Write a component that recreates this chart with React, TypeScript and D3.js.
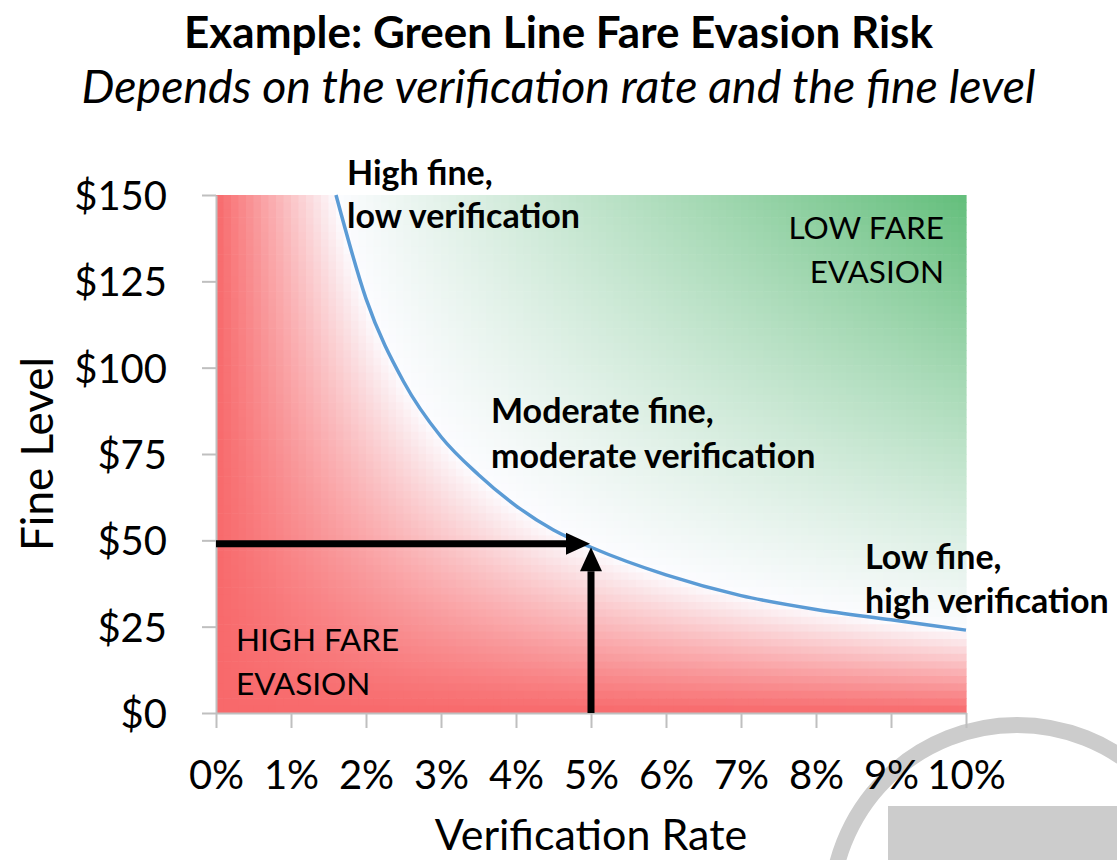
import React, { useEffect, useRef } from 'react';
import * as d3 from 'd3';

// axis ticks
const rateTicks = [0, 1, 2, 3, 4, 5, 6, 7, 8, 9, 10];
const fineTicks = [0, 25, 50, 75, 100, 125, 150];

// break-even curve (rate in %, fine in $)
const curveRate = [1.6, 2, 2.5, 3, 3.5, 4, 4.5, 5, 6, 7, 8, 9, 10];
const curveFine = [150, 120, 96, 80, 69, 60, 53, 48, 40, 34, 30, 27, 24];

// expected penalty per trip ($) on the curve and at the top right corner
const breakEvenPenalty = 2.4;
const maxPenalty = 15;

// the worked example
const exampleRate = 5;
const exampleFine = 49;

const titleText = 'Example: Green Line Fare Evasion Risk';
const subtitleText = 'Depends on the verification rate and the fine level';
const highFineLines = ['High fine,', 'low verification'];
const moderateLines = ['Moderate fine,', 'moderate verification'];
const lowFineLines = ['Low fine,', 'high verification'];
const lowEvasionLines = ['LOW FARE', 'EVASION'];
const highEvasionLines = ['HIGH FARE', 'EVASION'];

const W = 1117;
const H = 860;
const FONT = 'Lato, "Open Sans", sans-serif';

export default function App() {
  const ref = useRef<SVGSVGElement>(null);

  useEffect(() => {
    const svg = d3.select(ref.current);
    svg.selectAll('*').remove();

    const x = d3.scaleLinear().domain([0, 10]).range([216, 966]);
    const y = d3.scaleLinear().domain([0, 150]).range([713, 195]);

    const color = d3
      .scaleLinear<string>()
      .domain([0, breakEvenPenalty, maxPenalty])
      .range(['#F8696B', '#FCFCFF', '#63BE7B'])
      .clamp(true);

    // grey decoration in the bottom right corner
    svg.append('circle')
      .attr('cx', 1017).attr('cy', 911).attr('r', 186)
      .attr('fill', 'none').attr('stroke', '#cccccc').attr('stroke-width', 16);
    svg.append('rect')
      .attr('x', 888).attr('y', 806).attr('width', W - 888).attr('height', H - 806)
      .attr('fill', '#cccccc');

    // colour-scaled cell grid behind the plot
    const cols = 100;
    const rows = 70;
    const cw = (x(10) - x(0)) / cols;
    const ch = (y(0) - y(150)) / rows;
    const cells: { c: number; r: number }[] = [];
    for (let c = 0; c < cols; c++) for (let r = 0; r < rows; r++) cells.push({ c, r });
    svg.append('g')
      .selectAll('rect')
      .data(cells)
      .join('rect')
      .attr('x', d => x(0) + d.c * cw)
      .attr('y', d => y(150) + d.r * ch)
      .attr('width', cw + 0.6)
      .attr('height', ch + 0.6)
      .attr('fill', d => {
        const rate = x.invert(x(0) + (d.c + 0.5) * cw);
        const fine = y.invert(y(150) + (d.r + 0.5) * ch);
        return color((rate / 100) * fine);
      });

    // axes
    const yAxis = svg.append('g')
      .attr('transform', `translate(${x(0)},0)`)
      .call(
        d3.axisLeft(y)
          .tickValues(fineTicks)
          .tickSize(14)
          .tickSizeOuter(0)
          .tickPadding(35)
          .tickFormat(d => `$${d}`)
      );
    const xAxis = svg.append('g')
      .attr('transform', `translate(0,${y(0)})`)
      .call(
        d3.axisBottom(x)
          .tickValues(rateTicks)
          .tickSize(15)
          .tickSizeOuter(0)
          .tickPadding(33)
          .tickFormat(d => `${d}%`)
      );
    [yAxis, xAxis].forEach(a => {
      a.selectAll('path, line').attr('stroke', '#bfbfbf').attr('stroke-width', 2);
      a.selectAll('text')
        .attr('font-family', FONT)
        .attr('font-size', 40)
        .attr('fill', '#000');
    });
    yAxis.selectAll('text').attr('dy', '0.36em');

    // break-even curve
    const line = d3.line<number>()
      .x((_, i) => x(curveRate[i]))
      .y(d => y(d))
      .curve(d3.curveMonotoneX);
    svg.append('path')
      .attr('d', line(curveFine))
      .attr('fill', 'none')
      .attr('stroke', '#5b9bd5')
      .attr('stroke-width', 3.5);

    // example arrows
    const head = 24;
    const half = 11;
    const ax = x(exampleRate);
    const ay = y(exampleFine);
    const tipY = y(curveFine[curveRate.indexOf(exampleRate)]);
    svg.append('line')
      .attr('x1', x(0)).attr('y1', ay).attr('x2', ax - head).attr('y2', ay)
      .attr('stroke', '#000').attr('stroke-width', 7);
    svg.append('path')
      .attr('d', `M${ax - 1},${ay} L${ax - head - 1},${ay - half} L${ax - head - 1},${ay + half} Z`)
      .attr('fill', '#000');
    svg.append('line')
      .attr('x1', ax).attr('y1', y(0)).attr('x2', ax).attr('y2', tipY + head)
      .attr('stroke', '#000').attr('stroke-width', 7);
    svg.append('path')
      .attr('d', `M${ax},${tipY} L${ax - half},${tipY + head} L${ax + half},${tipY + head} Z`)
      .attr('fill', '#000');

    // text blocks
    const block = (
      lines: string[], px: number, py: number,
      opts: { size: number; weight?: string; anchor?: string; gap: number }
    ) => {
      svg.append('g')
        .selectAll('text')
        .data(lines)
        .join('text')
        .attr('x', px)
        .attr('y', (_, i) => py + i * opts.gap)
        .attr('font-family', FONT)
        .attr('font-size', opts.size)
        .attr('font-weight', opts.weight || 'normal')
        .attr('text-anchor', opts.anchor || 'start')
        .attr('fill', '#000')
        .text(d => d);
    };
    block(highFineLines, 347, 185, { size: 34, weight: 'bold', gap: 43 });
    block(moderateLines, 491, 423, { size: 34, weight: 'bold', gap: 45 });
    block(lowFineLines, 865, 569, { size: 34, weight: 'bold', gap: 44 });
    block(lowEvasionLines, 944, 239, { size: 31.5, anchor: 'end', gap: 44 });
    block(highEvasionLines, 236, 651, { size: 31.5, gap: 44 });

    svg.append('text')
      .attr('x', W / 2).attr('y', 48)
      .attr('text-anchor', 'middle')
      .attr('font-family', FONT).attr('font-size', 44).attr('font-weight', 'bold')
      .text(titleText);
    svg.append('text')
      .attr('x', W / 2).attr('y', 103)
      .attr('text-anchor', 'middle')
      .attr('font-family', FONT).attr('font-size', 46.5).attr('font-style', 'italic')
      .text(subtitleText);

    svg.append('text')
      .attr('x', x(5)).attr('y', 850)
      .attr('text-anchor', 'middle')
      .attr('font-family', FONT).attr('font-size', 43)
      .text('Verification Rate');
    svg.append('text')
      .attr('transform', `translate(53,${(y(0) + y(150)) / 2}) rotate(-90)`)
      .attr('text-anchor', 'middle')
      .attr('font-family', FONT).attr('font-size', 44)
      .text('Fine Level');
  }, []);

  return (
    <svg
      ref={ref}
      width={W}
      height={H}
      style={{ position: 'absolute', left: 0, top: 0, background: '#fff' }}
    />
  );
}
